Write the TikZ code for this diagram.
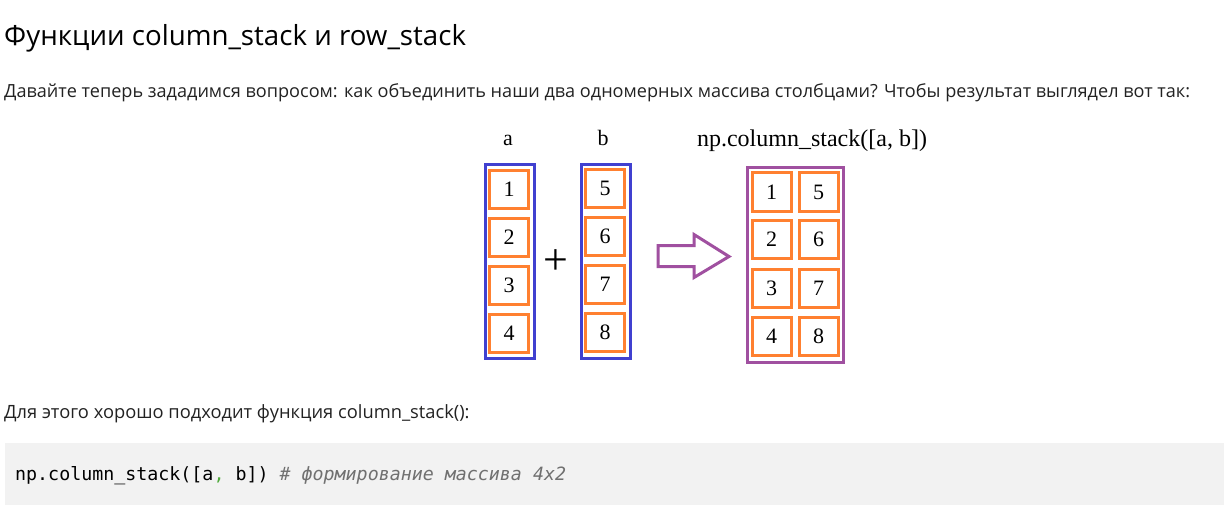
\documentclass[tikz,border=0pt]{standalone}
\usepackage{fontspec}
\setmainfont{Open Sans}
\newfontfamily\diagfont{Liberation Serif}
\newfontfamily\codefont{DejaVu Sans Mono}
\definecolor{colblue}{RGB}{64,64,208}
\definecolor{cellorange}{RGB}{255,128,48}
\definecolor{respurple}{RGB}{160,80,160}
\definecolor{codegrey}{RGB}{242,242,242}
\definecolor{commentgrey}{RGB}{112,112,112}
\definecolor{commagreen}{RGB}{80,170,60}
\definecolor{textdark}{RGB}{34,34,34}
\tikzset{
  cell/.style={draw=cellorange, line width=3pt, minimum width=39pt, minimum height=38pt, inner sep=0pt, font=\diagfont\fontsize{22}{26}\selectfont},
  colframe/.style={draw=colblue, line width=3pt, minimum width=49pt, minimum height=194pt, inner sep=0pt},
  resframe/.style={draw=respurple, line width=3pt, minimum width=96pt, minimum height=194pt, inner sep=0pt},
  pagetext/.style={anchor=base west, inner sep=0pt, text=textdark}
}
\begin{document}
\begin{tikzpicture}[x=1pt, y=-1pt]
\useasboundingbox (0,0) rectangle (1230,505);

% Page text
\node[pagetext, text=black, font=\fontsize{27.7}{32}\selectfont] (title) at (4,46) {Функции column\_stack и row\_stack};
\node[pagetext, font=\fontsize{18.1}{22}\selectfont] (intro) at (4,98) {Давайте теперь зададимся вопросом: как объединить наши два одномерных массива столбцами? Чтобы результат выглядел вот так:};

% Column a
\node[colframe] (colA) at (510,261.5) {};
\node[font=\diagfont\fontsize{22}{26}\selectfont] (labA) at (508,140) {a};
\foreach \v/\y in {1/189.5, 2/237.5, 3/285.5, 4/333.5}
  \node[cell] (a\v) at (509,\y) {\v};

% Plus
\node[font=\diagfont\fontsize{44}{48}\selectfont] (plus) at (556,262) {+};

% Column b
\node[colframe] (colB) at (605.5,261.5) {};
\node[font=\diagfont\fontsize{22}{26}\selectfont] (labB) at (603,138) {b};
\foreach \v/\y in {5/188.5, 6/236.5, 7/284.5, 8/332.5}
  \node[cell] (b\v) at (605,\y) {\v};

% Arrow
\draw[respurple, line width=3pt, line join=miter]
  (658,245.5) -- (694,245.5) -- (694,234.5) -- (729,256.5) -- (694,277.5)
  -- (694,266.5) -- (658,266.5) -- cycle;

% Result
\node[font=\diagfont\fontsize{24}{28}\selectfont] (labR) at (812,141) {np.column\_stack([a, b])};
\node[resframe] (res) at (795,265) {};
\foreach \l/\r/\y in {1/5/192, 2/6/239, 3/7/288, 4/8/336.5} {
  \node[cell] (r\l) at (771.5,\y) {\l};
  \node[cell] (r\r) at (818.5,\y) {\r};
}

% Text below
\node[pagetext, font=\fontsize{18.3}{22}\selectfont] (lead) at (4,418) {Для этого хорошо подходит функция column\_stack():};

% Code block
\fill[codegrey] (5,443) rectangle (1224,505);
\node[pagetext, text=black, font=\codefont\fontsize{18.3}{22}\selectfont] (code) at (15,480)
  {np.column\_stack([a\textcolor{commagreen}{,} b]) \textcolor{commentgrey}{\itshape \# формирование массива 4x2}};
\end{tikzpicture}
\end{document}
